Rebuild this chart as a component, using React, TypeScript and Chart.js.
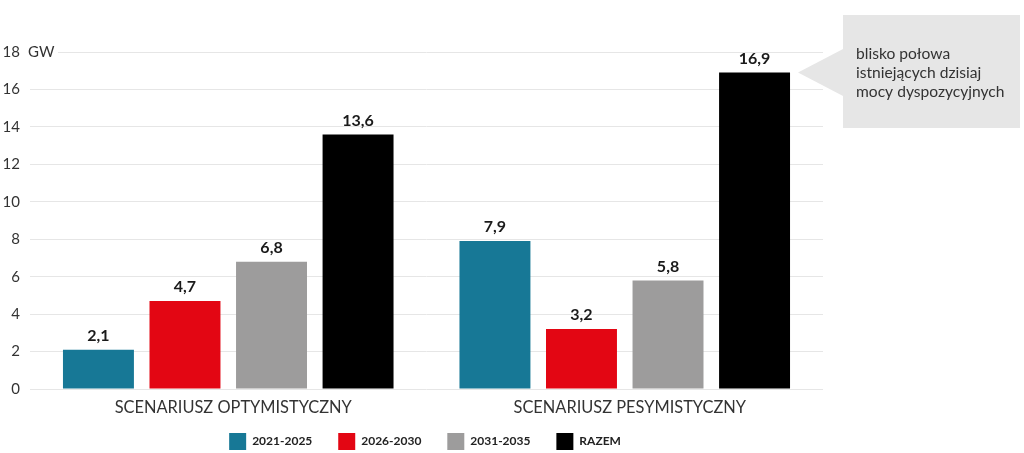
import React, { useEffect, useRef } from "react";
import { Chart, registerables } from "chart.js";

Chart.register(...registerables);

const categories = ["SCENARIUSZ OPTYMISTYCZNY", "SCENARIUSZ PESYMISTYCZNY"];
const seriesNames = ["2021-2025", "2026-2030", "2031-2035", "RAZEM"];
const values2021_2025 = [2.1, 7.9];
const values2026_2030 = [4.7, 3.2];
const values2031_2035 = [6.8, 5.8];
const valuesRazem = [13.6, 16.9];
const seriesColors = ["#177896", "#E30613", "#9D9C9C", "#000000"];
const yUnit = "GW";
const calloutLines = ["blisko połowa", "istniejących dzisiaj", "mocy dyspozycyjnych"];

const FONT = "Lato, 'Noto Sans', sans-serif";

const labelsPlugin = {
  id: "valueLabels",
  afterDatasetsDraw(chart: any) {
    const ctx = chart.ctx;
    ctx.save();
    ctx.font = `bold 16px ${FONT}`;
    ctx.fillStyle = "#1a1a1a";
    ctx.textAlign = "center";
    ctx.textBaseline = "bottom";
    chart.data.datasets.forEach((ds: any, i: number) => {
      const meta = chart.getDatasetMeta(i);
      meta.data.forEach((el: any, j: number) => {
        const v = ds.data[j];
        ctx.fillText(String(v).replace(".", ","), el.x, el.y - 6);
      });
    });
    ctx.restore();
  },
};

const legendHeightPlugin = {
  id: "legendHeight",
  beforeLayout(chart: any) {
    const lg = chart.legend;
    if (lg && !lg._patched) {
      const orig = lg.update.bind(lg);
      lg.update = function (a: any, b: any, c: any) {
        orig(a, b, c);
        this.height = 43;
      };
      lg._patched = true;
    }
  },
};

const extrasPlugin = {
  id: "extras",
  afterDraw(chart: any) {
    const ctx = chart.ctx;
    const area = chart.chartArea;
    const yScale = chart.scales.y;
    ctx.save();
    const yTop = yScale.getPixelForValue(18);
    ctx.fillStyle = "#ffffff";
    ctx.fillRect(area.left - 2, yTop - 3, 30, 6);
    ctx.font = `15px ${FONT}`;
    ctx.fillStyle = "#333333";
    ctx.textAlign = "left";
    ctx.textBaseline = "middle";
    ctx.fillText(yUnit, area.left - 2, yTop);

    const meta = chart.getDatasetMeta(3);
    const bar = meta.data[1];
    const tipX = bar.x + bar.width / 2 + 8;
    const tipY = bar.y;
    const boxL = 843;
    const boxT = 15;
    const boxR = 1020;
    const boxB = 128;
    ctx.fillStyle = "#e6e6e6";
    ctx.fillRect(boxL, boxT, boxR - boxL, boxB - boxT);
    ctx.beginPath();
    ctx.moveTo(boxL + 1, tipY - 24);
    ctx.lineTo(tipX, tipY);
    ctx.lineTo(boxL + 1, tipY + 24);
    ctx.closePath();
    ctx.fill();
    ctx.fillStyle = "#333333";
    ctx.font = `15.6px ${FONT}`;
    ctx.textAlign = "left";
    ctx.textBaseline = "alphabetic";
    calloutLines.forEach((t, i) => {
      ctx.fillText(t, 856, 59 + i * 19);
    });
    ctx.restore();
  },
};

export default function App() {
  const ref = useRef<HTMLCanvasElement | null>(null);
  useEffect(() => {
    document.body.style.margin = "0";
    const dataArrays = [values2021_2025, values2026_2030, values2031_2035, valuesRazem];
    const chart = new Chart(ref.current as HTMLCanvasElement, {
      type: "bar",
      data: {
        labels: categories,
        datasets: seriesNames.map((name, i) => ({
          label: name,
          data: dataArrays[i],
          backgroundColor: seriesColors[i],
          borderWidth: 0,
          categoryPercentage: 0.873,
          barPercentage: 0.82,
        })),
      },
      options: {
        responsive: false,
        animation: false,
        layout: { padding: { top: 52, right: 201, left: 0, bottom: 0 } },
        plugins: {
          tooltip: { enabled: false },
          legend: {
            position: "bottom",
            fullSize: false,
            labels: {
              boxWidth: 17,
              boxHeight: 17,
              padding: 23,
              color: "#222222",
              font: { family: FONT, size: 12, weight: "bold" },
              generateLabels(chart: any) {
                const items = Chart.defaults.plugins.legend.labels.generateLabels(chart);
                return items.map((it: any) => ({ ...it, text: it.text + " " }));
              },
            },
          },
        },
        scales: {
          x: {
            afterFit(scale: any) {
              scale.height = 21;
              scale._computeLabelArea = () => undefined;
            },
            grid: { display: false, drawTicks: false },
            border: { display: false },
            ticks: {
              color: "#333333",
              font: { family: FONT, size: 16.4 },
              padding: 9,
              labelOffset: 5,
            },
          },
          y: {
            min: 0,
            max: 18,
            afterFit(scale: any) {
              scale.width = 30;
            },
            grid: { color: "#e6e6e6", drawTicks: false },
            border: { display: false },
            ticks: {
              stepSize: 2,
              color: "#333333",
              font: { family: FONT, size: 15 },
              padding: 10,
            },
          },
        },
      },
      plugins: [labelsPlugin, legendHeightPlugin, extrasPlugin],
    } as any);
    return () => chart.destroy();
  }, []);
  return (
    <div style={{ width: 1024, height: 453 }}>
      <canvas ref={ref} width={1024} height={453} />
    </div>
  );
}
